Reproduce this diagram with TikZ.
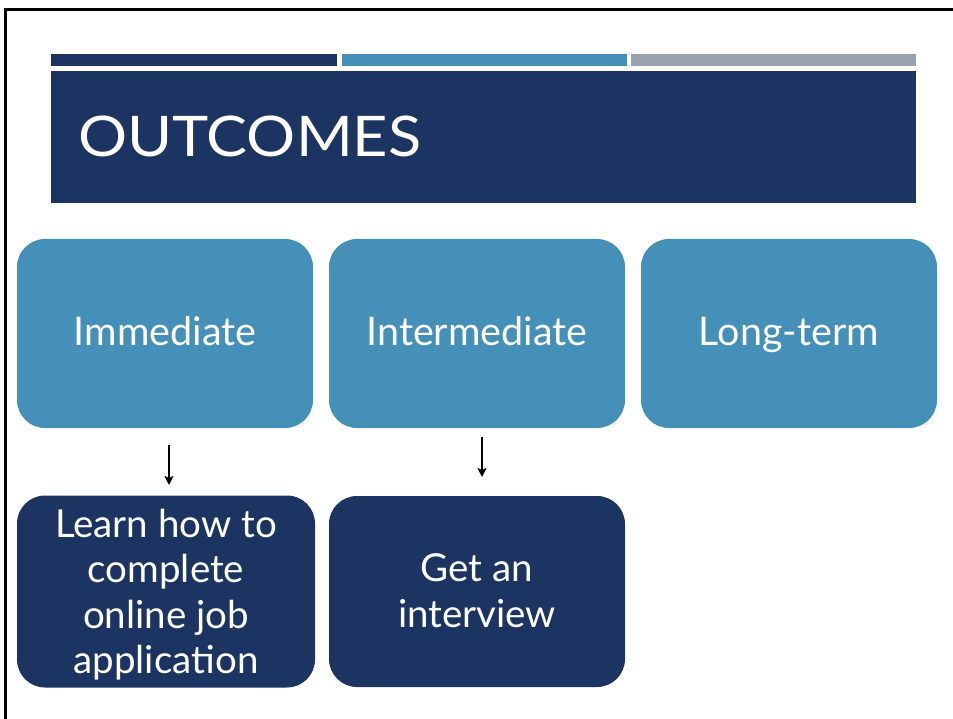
\documentclass[tikz,border=0pt]{standalone}
\usepackage{fontspec}
\setmainfont{Lato}
\usetikzlibrary{arrows.meta}
\definecolor{navy}{HTML}{1C3461}
\definecolor{midblue}{HTML}{4590B9}
\definecolor{bargray}{HTML}{98A2AC}
\begin{document}
\begin{tikzpicture}[x=1pt,y=-1pt,
  topbox/.style={fill=midblue,rounded corners=28pt,text=white,align=center,minimum width=296pt,minimum height=189pt,inner sep=0,text height=29pt,text depth=6pt,font=\fontsize{39.5}{46}\selectfont},
  botbox/.style={fill=navy,rounded corners=28pt,minimum height=192pt,inner sep=0},
  bottext/.style={text=white,align=center,inner sep=0,font=\fontsize{38.5}{45.5}\selectfont},
  arr/.style={-{Stealth[length=9pt,width=9pt,inset=2pt]},line width=2.5pt,black}]
\useasboundingbox (0,0) rectangle (953,719);
\fill[white] (0,0) rectangle (953,719);
\draw[line width=3pt] (953,9.5) -- (5.5,9.5) -- (5.5,719);
% bars
\fill[navy] (51,54) rectangle (337,66);
\fill[midblue] (342,54) rectangle (627,66);
\fill[bargray] (631,54) rectangle (916,66);
\fill[navy] (51,71) rectangle (916,203);
\node[anchor=base west,text=white,font=\fontsize{56}{60}\selectfont,inner sep=0] (title) at (78,157) {\scalebox{1.095}[1]{OUTCOMES}};
% top boxes
\node[topbox] (imm) at (165,333.5) {Immediate};
\node[topbox] (int) at (477,333.5) {Intermediate};
\node[topbox] (long) at (789,333.5) {Long-term};
% bottom boxes
\node[botbox,minimum width=298pt] (learn) at (166,591.5) {};
\node[bottext] (learntext) at (166,594.4) {Learn how to\\complete\\online job\\application};
\node[botbox,minimum width=296pt,minimum height=191pt] (get) at (477,591.5) {};
\node[bottext] (gettext) at (477,590.6) {Get an\\interview};
% arrows
\coordinate (a1s) at (169,445);
\coordinate (a1e) at (169,485);
\coordinate (a2s) at (482,437);
\coordinate (a2e) at (482,477);
\draw[arr] (a1s) -- (a1e);
\draw[arr] (a2s) -- (a2e);
\end{tikzpicture}
\end{document}
